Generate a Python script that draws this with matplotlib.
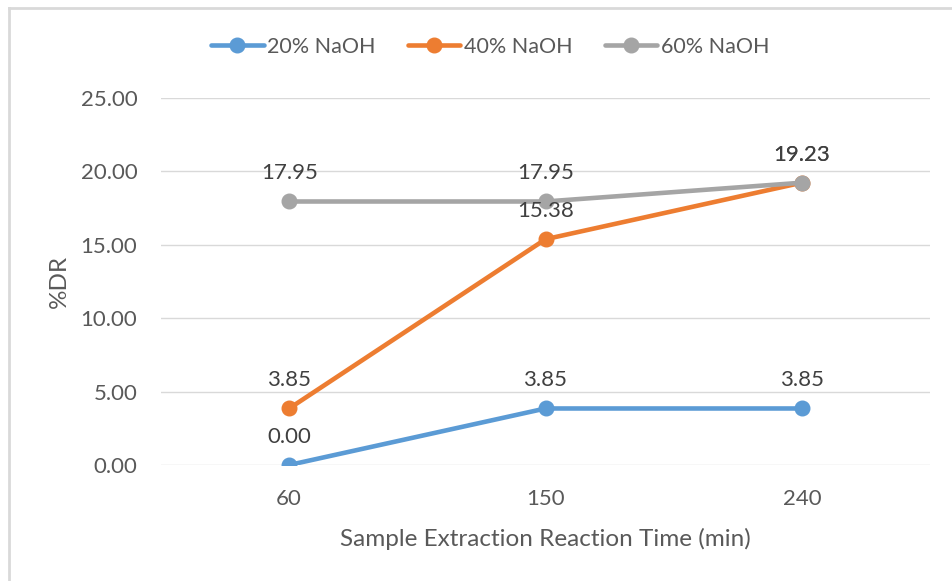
import matplotlib.pyplot as plt
from matplotlib.lines import Line2D

plt.rcParams['font.family'] = ['Lato', 'DejaVu Sans']

times = ["60", "150", "240"]
naoh_20 = [0.00, 3.85, 3.85]
naoh_40 = [3.85, 15.38, 19.23]
naoh_60 = [17.95, 17.95, 19.23]
series_names = ["20% NaOH", "40% NaOH", "60% NaOH"]
colors = ["#5B9BD5", "#ED7D31", "#A5A5A5"]
y_ticks = [0, 5, 10, 15, 20, 25]

text_color = "#595959"
grid_color = "#D9D9D9"

fig = plt.figure(figsize=(9.52, 5.81), dpi=100)
ax = fig.add_axes([161 / 952, 1 - 465 / 581, (930 - 161) / 952, (465 - 98) / 581])

x = list(range(len(times)))
for vals, name, c in zip([naoh_20, naoh_40, naoh_60], series_names, colors):
    ax.plot(x, vals, color=c, lw=3.3, marker="o", ms=10.5, label=name,
            solid_capstyle="round", zorder=3)

# value labels above each point
for vals in [naoh_20, naoh_40, naoh_60]:
    for xi, v in zip(x, vals):
        ax.annotate(f"{v:.2f}", (xi, v), xytext=(0, 13), textcoords="offset points",
                    ha="center", va="bottom", fontsize=16, color="#404040", zorder=4)

ax.set_xlim(-0.5, 2.5)
ax.set_ylim(0, 25)
ax.set_xticks(x)
ax.set_xticklabels(times)
ax.set_yticks(y_ticks)
ax.set_yticklabels([f"{t:.2f}" for t in y_ticks])
ax.tick_params(axis="both", length=0, labelsize=16, labelcolor=text_color)
ax.tick_params(axis="x", pad=17)
ax.tick_params(axis="y", pad=17)
ax.grid(axis="y", color=grid_color, lw=1)
ax.set_axisbelow(True)
for s in ax.spines.values():
    s.set_visible(False)
ax.set_ylabel("%DR", fontsize=17.5, color=text_color, labelpad=8)
ax.set_xlabel("Sample Extraction Reaction Time (min)", fontsize=17.5,
              color=text_color, labelpad=14)

leg = fig.legend(loc="center", bbox_to_anchor=(490 / 952, 1 - 47 / 581), ncol=3,
                 frameon=False, fontsize=15.5, handlelength=2.45, columnspacing=1.5,
                 handletextpad=0.15)
for t in leg.get_texts():
    t.set_color(text_color)

# chart frame (top and left edges)
fig.add_artist(Line2D([9 / 952, 1], [1 - 8 / 581, 1 - 8 / 581], color=grid_color, lw=2,
                      transform=fig.transFigure))
fig.add_artist(Line2D([9 / 952, 9 / 952], [0, 1 - 8 / 581], color=grid_color, lw=2,
                      transform=fig.transFigure))

fig.savefig("out.png", dpi=100)
